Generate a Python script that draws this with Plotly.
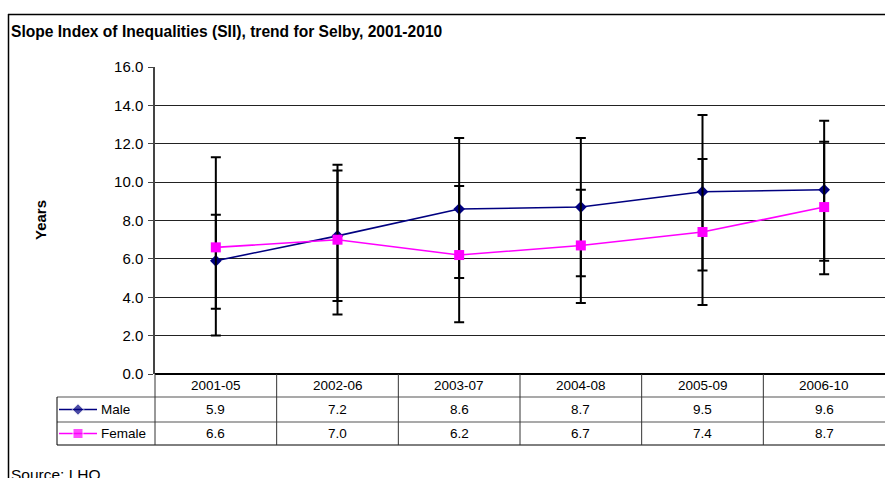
import plotly.graph_objects as go

# Rolling five-year periods
periods = ["2001-05", "2002-06", "2003-07", "2004-08", "2005-09", "2006-10"]

# Slope Index of Inequalities (years)
male = [5.9, 7.2, 8.6, 8.7, 9.5, 9.6]
female = [6.6, 7.0, 6.2, 6.7, 7.4, 8.7]

# 95% confidence interval bounds
male_upper = [8.3, 10.6, 12.3, 12.3, 13.5, 13.2]
male_lower = [3.4, 3.8, 5.0, 5.1, 5.4, 5.9]
female_upper = [11.3, 10.9, 9.8, 9.6, 11.2, 12.1]
female_lower = [2.0, 3.1, 2.7, 3.7, 3.6, 5.2]

y_ticks = [0, 2, 4, 6, 8, 10, 12, 14, 16]

W, H = 885, 478
FONT = "Liberation Sans, Arial, sans-serif"
MALE_COL = "#000080"
FEMALE_COL = "#FF00FF"


def px(x):
    return x / W


def py(y):
    return 1 - y / H


# plot area in pixels
PL, PR, PT, PB = 155, 885, 67, 374
# data table rows
ROW_HDR, ROW_M, ROW_F, ROW_END = 374, 397, 422, 445
LEG_L = 57

fig = go.Figure()


def series(name, vals, lo, hi, color, symbol, size):
    fig.add_trace(go.Scatter(
        x=periods, y=vals, name=name, mode="lines+markers",
        line=dict(color=color, width=1.6),
        marker=dict(color=color, symbol=symbol, size=size),
        error_y=dict(
            type="data", symmetric=False,
            array=[h - v for h, v in zip(hi, vals)],
            arrayminus=[v - l for v, l in zip(vals, lo)],
            color="black", thickness=2, width=5,
        ),
        showlegend=False, cliponaxis=False,
    ))


series("Male", male, male_lower, male_upper, MALE_COL, "diamond", 9)
series("Female", female, female_lower, female_upper, FEMALE_COL, "square", 10)

# legend keys inside the data table (pixel overlay axes)
for name, col, sym, sz, yc in [("Male", MALE_COL, "diamond", 9, (ROW_M + ROW_F) / 2),
                               ("Female", FEMALE_COL, "square", 10, (ROW_F + ROW_END) / 2)]:
    fig.add_trace(go.Scatter(
        x=[59, 78, 97], y=[yc, yc, yc], mode="lines+markers",
        line=dict(color=col, width=1.6),
        marker=dict(color=col, symbol=sym, size=[0, sz, 0]),
        xaxis="x2", yaxis="y2", showlegend=False, hoverinfo="skip",
    ))

shapes = []
def hline(y, x0, x1, color="black", w=1):
    shapes.append(dict(type="line", xref="paper", yref="paper",
                       x0=px(x0), x1=px(x1), y0=py(y), y1=py(y),
                       line=dict(color=color, width=w)))

def vline(x, y0, y1, color="black", w=1):
    shapes.append(dict(type="line", xref="paper", yref="paper",
                       x0=px(x), x1=px(x), y0=py(y0), y1=py(y1),
                       line=dict(color=color, width=w)))

# outer frame
hline(14.5, 8, 885, w=1.5)
vline(8.5, 14, 478, w=1.5)

# data table grid
hline(PB, PL, PR, color="black", w=2)
hline(ROW_M, LEG_L, PR, color="#555555", w=1.2)
hline(ROW_F, LEG_L, PR, color="#555555", w=1.2)
hline(ROW_END, LEG_L, PR, color="black", w=1)
vline(LEG_L, ROW_M, ROW_END, color="black", w=1)
col_w = (PR - PL) / len(periods)
for i in range(len(periods)):
    vline(PL + i * col_w, ROW_HDR, ROW_END, color="#333333", w=1)

annotations = []
cell_font = dict(family=FONT, size=13.5, color="black")


def cell(x, y, text, xref="x", xanchor="center"):
    annotations.append(dict(x=x, y=py(y), xref=xref, yref="paper", text=text,
                            showarrow=False, xanchor=xanchor, yanchor="middle",
                            font=cell_font))


for i, p in enumerate(periods):
    cell(p, (ROW_HDR + ROW_M) / 2, p)
    cell(p, (ROW_M + ROW_F) / 2, f"{male[i]:.1f}")
    cell(p, (ROW_F + ROW_END) / 2, f"{female[i]:.1f}")

cell(px(99), (ROW_M + ROW_F) / 2, "Male", xref="paper", xanchor="left")
cell(px(99), (ROW_F + ROW_END) / 2, "Female", xref="paper", xanchor="left")

# title, axis title and source
annotations.append(dict(x=px(9), y=py(32), xref="paper", yref="paper",
                        xanchor="left", yanchor="middle",
                        text="<b>Slope Index of Inequalities (SII), trend for Selby, 2001-2010</b>",
                        showarrow=False, font=dict(family=FONT, size=15.6, color="black")))
annotations.append(dict(x=px(40), y=py(220), xref="paper", yref="paper",
                        xanchor="center", yanchor="middle", textangle=-90,
                        text="<b>Years</b>", showarrow=False,
                        font=dict(family=FONT, size=15, color="black")))
annotations.append(dict(x=px(9), y=py(464), xref="paper", yref="paper", xanchor="left",
                        yanchor="top", text="Source: LHO", showarrow=False,
                        font=dict(family=FONT, size=15.5, color="black")))

fig.update_layout(
    width=W, height=H, margin=dict(l=0, r=0, t=0, b=0, pad=0, autoexpand=False),
    paper_bgcolor="white", plot_bgcolor="rgba(0,0,0,0)",
    xaxis=dict(domain=[px(PL), px(PR)], type="category", range=[-0.5, 5.5],
               showticklabels=False, ticks="", showgrid=False, zeroline=False,
               showline=False, fixedrange=True),
    yaxis=dict(domain=[py(PB), py(PT)], range=[0, 16], tickvals=y_ticks,
               tickformat=".1f", ticks="outside", ticklen=5, tickcolor="#444444",
               ticklabelstandoff=2,
               tickfont=dict(family=FONT, size=15, color="black"),
               showgrid=True, gridcolor="#222222", gridwidth=1,
               showline=True, linecolor="#444444", linewidth=1.5,
               zeroline=False, fixedrange=True),
    xaxis2=dict(domain=[0, 1], range=[0, W], visible=False, anchor="y2", fixedrange=True),
    yaxis2=dict(domain=[0, 1], range=[H, 0], visible=False, anchor="x2", fixedrange=True),
    shapes=shapes, annotations=annotations,
)

fig.write_html("out.html")
